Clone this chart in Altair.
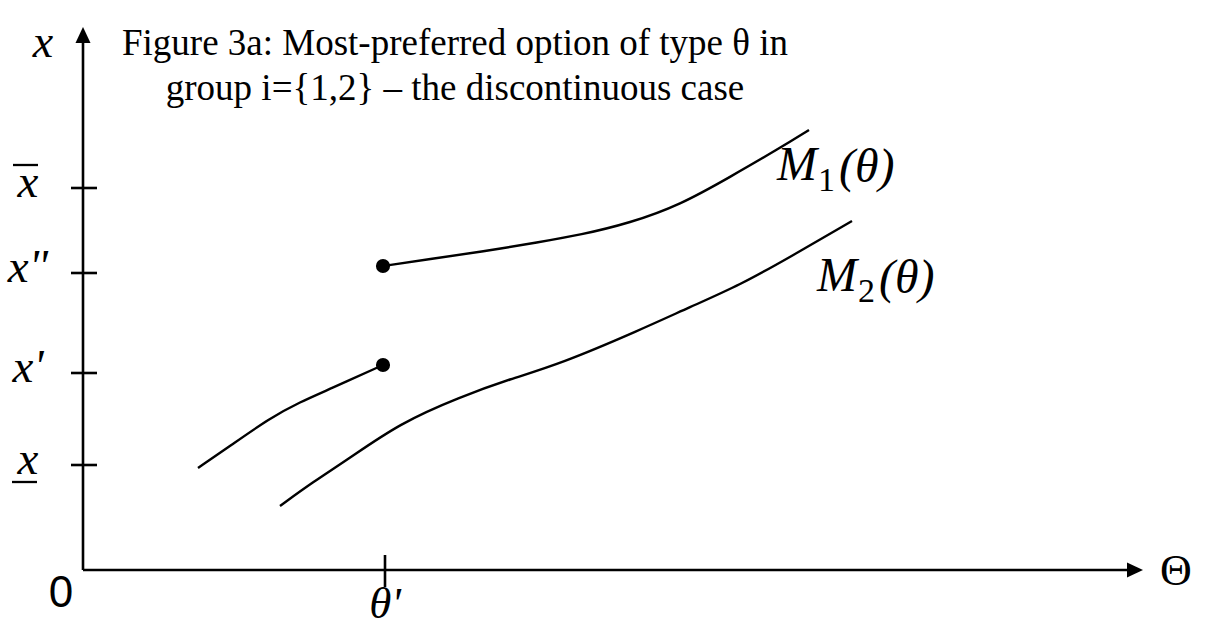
import altair as alt
import pandas as pd

# ---- curve samples, in (theta, x) units ----
# M1(theta): lower branch, ends at theta'
m1_low_theta = [1.15, 1.47, 1.87, 2.17, 2.47, 3.00]
m1_low_x = [1.02, 1.24, 1.52, 1.68, 1.81, 2.05]
# M1(theta): upper branch, starts at theta' after the jump
m1_high_theta = [3.00, 3.47, 3.97, 4.57, 4.97, 5.47, 5.97, 6.47, 6.97, 7.26]
m1_high_x = [3.04, 3.11, 3.18, 3.28, 3.35, 3.47, 3.65, 3.93, 4.22, 4.40]
# M2(theta): continuous
m2_theta = [1.97, 2.30, 2.64, 3.17, 3.77, 4.27, 4.77, 5.57, 6.07, 6.57, 7.07, 7.69]
m2_x = [0.64, 0.88, 1.10, 1.47, 1.73, 1.91, 2.06, 2.40, 2.63, 2.85, 3.13, 3.49]

# end points of the jump at theta'
jump_theta = [3.00, 3.00]
jump_x = [3.04, 2.05]

# marked levels on the vertical axis (top to bottom)
x_levels = [3.82, 2.97, 1.97, 1.05]
x_level_labels = ["x", 'x"', "x'", "x"]
theta_prime = 3.02
theta_prime_label = "θ'"

# axis extents and arrow heads
theta_axis_end = 10.45
x_axis_end = 5.28
theta_arrow = 10.52
x_arrow = 5.35

# curve names, placed at the "M" of each name
curve_names = ["M", "M"]
curve_subs = ["1", "2"]
curve_args = ["(θ)", "(θ)"]
curve_name_theta = [6.94, 7.34]
curve_name_x = [3.90, 2.79]

title_lines = [
    "Figure 3a: Most-preferred option of type θ in",
    "group i={1,2} – the discontinuous case",
]

SERIF = "Liberation Serif"
SANS = "Liberation Sans"
INK = "black"

xs = alt.Scale(domain=[-0.83, 11.27], nice=False, zero=False)
ys = alt.Scale(domain=[-0.58, 5.70], nice=False, zero=False)


def X(f):
    return alt.X(f, type="quantitative", scale=xs, axis=None)


def Y(f):
    return alt.Y(f, type="quantitative", scale=ys, axis=None)


curves = pd.concat(
    [
        pd.DataFrame({"theta": m1_low_theta, "x": m1_low_x, "seg": "M1 lower"}),
        pd.DataFrame({"theta": m1_high_theta, "x": m1_high_x, "seg": "M1 upper"}),
        pd.DataFrame({"theta": m2_theta, "x": m2_x, "seg": "M2"}),
    ],
    ignore_index=True,
)

axes_df = pd.DataFrame(
    {"theta": [0.0, 0.0], "x": [0.0, 0.0], "theta2": [0.0, theta_axis_end], "x2": [x_axis_end, 0.0]}
)
axis_lines = alt.Chart(axes_df).mark_rule(color=INK, strokeWidth=2.6).encode(
    x=X("theta"), y=Y("x"), x2="theta2", y2="x2"
)

arrow_up = alt.Chart(pd.DataFrame({"theta": [0.0], "x": [x_arrow]})).mark_point(
    shape="M0,-1L0.94,1L-0.94,1Z", filled=True, size=256, color=INK, opacity=1, strokeWidth=0
).encode(x=X("theta"), y=Y("x"))

arrow_right = alt.Chart(pd.DataFrame({"theta": [theta_arrow], "x": [0.0]})).mark_point(
    shape="M1,0L-1,-0.94L-1,0.94Z", filled=True, size=256, color=INK, opacity=1, strokeWidth=0
).encode(x=X("theta"), y=Y("x"))

levels_df = pd.DataFrame({"theta": [0.0] * len(x_levels), "x": x_levels, "label": x_level_labels})
level_ticks = alt.Chart(levels_df).mark_rule(
    color=INK, strokeWidth=2.6, xOffset=-12, x2Offset=14
).encode(x=X("theta"), x2="theta", y=Y("x"))

level_labels = alt.Chart(levels_df).mark_text(
    font=SERIF, fontStyle="italic", fontSize=47, align="center", baseline="alphabetic",
    color=INK, dx=-55, dy=9,
).encode(x=X("theta"), y=Y("x"), text="label:N")

# bar over the upper bound, bar under the lower bound
over_bar = alt.Chart(levels_df.iloc[[0]]).mark_rule(
    color=INK, strokeWidth=2.3, xOffset=-70, x2Offset=-45, yOffset=-23, y2Offset=-23
).encode(x=X("theta"), x2="theta", y=Y("x"), y2="x")
under_bar = alt.Chart(levels_df.iloc[[3]]).mark_rule(
    color=INK, strokeWidth=2.3, xOffset=-71, x2Offset=-46, yOffset=17, y2Offset=17
).encode(x=X("theta"), x2="theta", y=Y("x"), y2="x")

tprime_df = pd.DataFrame({"theta": [theta_prime], "x": [0.0], "label": [theta_prime_label]})
tprime_tick = alt.Chart(tprime_df).mark_rule(
    color=INK, strokeWidth=2.6, yOffset=-15, y2Offset=17
).encode(x=X("theta"), y=Y("x"), y2="x")
tprime_label = alt.Chart(tprime_df).mark_text(
    font=SERIF, fontStyle="italic", fontSize=45, align="center", baseline="alphabetic",
    color=INK, dy=48,
).encode(x=X("theta"), y=Y("x"), text="label:N")

origin_label = alt.Chart(pd.DataFrame({"theta": [0.0], "x": [0.0], "label": ["0"]})).mark_text(
    font=SANS, fontSize=44, align="center", baseline="alphabetic", color=INK, dx=-22, dy=37
).encode(x=X("theta"), y=Y("x"), text="label:N")

x_axis_name = alt.Chart(pd.DataFrame({"theta": [0.0], "x": [x_arrow], "label": ["x"]})).mark_text(
    font=SERIF, fontStyle="italic", fontSize=46, align="center", baseline="alphabetic",
    color=INK, dx=-40, dy=22,
).encode(x=X("theta"), y=Y("x"), text="label:N")

theta_axis_name = alt.Chart(pd.DataFrame({"theta": [theta_arrow], "x": [0.0], "label": ["Θ"]})).mark_text(
    font=SERIF, fontSize=44, align="center", baseline="alphabetic", color=INK, dx=41, dy=15
).encode(x=X("theta"), y=Y("x"), text="label:N")

lines = alt.Chart(curves).mark_line(
    interpolate="basis", color=INK, strokeWidth=2.4
).encode(x=X("theta"), y=Y("x"), detail="seg:N")

dots = alt.Chart(pd.DataFrame({"theta": jump_theta, "x": jump_x})).mark_circle(
    size=200, color=INK, opacity=1
).encode(x=X("theta"), y=Y("x"))

names_df = pd.DataFrame(
    {"theta": curve_name_theta, "x": curve_name_x, "name": curve_names, "sub": curve_subs, "arg": curve_args}
)
name_main = alt.Chart(names_df).mark_text(
    font=SERIF, fontStyle="italic", fontSize=48, align="left", baseline="alphabetic", color=INK
).encode(x=X("theta"), y=Y("x"), text="name:N")
name_sub = alt.Chart(names_df).mark_text(
    font=SERIF, fontSize=34, align="left", baseline="alphabetic", color=INK, dx=41, dy=11
).encode(x=X("theta"), y=Y("x"), text="sub:N")
name_arg = alt.Chart(names_df).mark_text(
    font=SERIF, fontStyle="italic", fontSize=48, align="left", baseline="alphabetic", color=INK, dx=62, dy=2
).encode(x=X("theta"), y=Y("x"), text="arg:N")

title = alt.Chart(pd.DataFrame({"k": [0]})).mark_text(
    text=title_lines, font=SERIF, fontSize=37, lineHeight=45, align="center",
    baseline="alphabetic", color=INK,
).encode(x=alt.value(455), y=alt.value(55))

chart = alt.layer(
    axis_lines, arrow_up, arrow_right, level_ticks, level_labels, over_bar, under_bar,
    tprime_tick, tprime_label, origin_label, x_axis_name, theta_axis_name,
    lines, dots, name_main, name_sub, name_arg, title,
).properties(
    width=1210, height=628, padding=0, autosize=alt.AutoSizeParams(type="none")
).configure_view(stroke=None)

chart.save("out.html", embed_options={"renderer": "svg", "actions": False})
